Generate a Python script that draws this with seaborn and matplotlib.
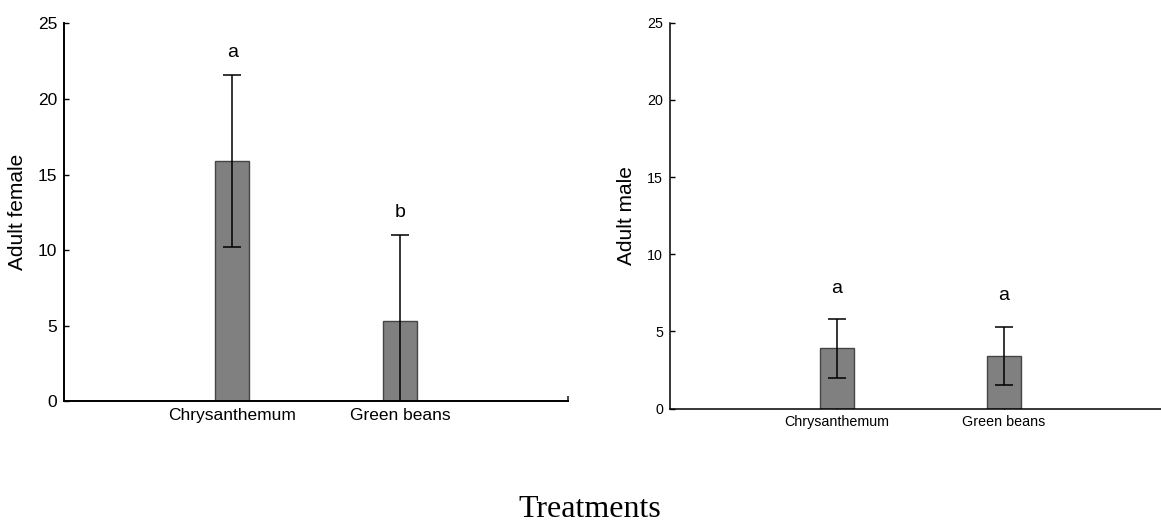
import matplotlib
matplotlib.use("Agg")
import matplotlib.pyplot as plt
import seaborn as sns
import pandas as pd

# Mean counts per host plant with their error margins and significance letters
treatments = ["Chrysanthemum", "Green beans"]
female_mean = [15.9, 5.3]
female_err = [5.7, 5.7]
female_letters = ["a", "b"]
male_mean = [3.9, 3.4]
male_err = [1.9, 1.9]
male_letters = ["a", "a"]
y_ticks = [0, 5, 10, 15, 20, 25]

sns.set_style("ticks")
plt.rcParams["font.family"] = ["Liberation Sans", "DejaVu Sans"]
plt.rcParams["text.color"] = "black"
plt.rcParams["axes.labelcolor"] = "black"

fig = plt.figure(figsize=(11.61, 5.22), dpi=100)

BAR_FILL = "#808080"
BAR_EDGE = "#454545"


def draw_panel(ax, means, errs, letters, ylabel, tick_fs, label_fs, letter_fs,
               letter_gap, spine_lw):
    df = pd.DataFrame({"treatment": treatments, "value": means})
    sns.barplot(data=df, x="treatment", y="value", ax=ax, width=0.2,
                color=BAR_FILL, saturation=1, edgecolor=BAR_EDGE,
                linewidth=1.0, errorbar=None)
    pos = list(range(len(treatments)))
    ax.errorbar(pos, means, yerr=errs, fmt="none", ecolor="black",
                elinewidth=1.1, capsize=6.5, capthick=1.1, zorder=4)
    for x, m, e, t in zip(pos, means, errs, letters):
        ax.text(x, m + e + letter_gap, t, ha="center", va="center",
                fontsize=letter_fs, color="black")
    ax.set_xlim(-1, 2)
    ax.set_ylim(0, 25)
    ax.set_yticks(y_ticks)
    ax.set_xticks(pos)
    ax.set_xticklabels(treatments)
    ax.set_xticks([2], minor=True)
    ax.set_xlabel("")
    ax.set_ylabel(ylabel, fontsize=label_fs, labelpad=8, color="black")
    ax.tick_params(axis="both", direction="in", length=3.5, width=1.0,
                   labelsize=tick_fs, colors="black", pad=5)
    ax.tick_params(axis="x", which="minor", direction="in", length=3.5,
                   width=1.2)
    sns.despine(ax=ax, top=True, right=True)
    for side in ("left", "bottom"):
        ax.spines[side].set_linewidth(spine_lw)
        ax.spines[side].set_color("black")


ax1 = fig.add_axes([0.0554, 0.2312, 0.4338, 0.7241])
draw_panel(ax1, female_mean, female_err, female_letters, "Adult female",
           tick_fs=12.5, label_fs=15, letter_fs=14, letter_gap=1.5,
           spine_lw=1.4)

ax2 = fig.add_axes([0.5771, 0.2174, 0.4313, 0.7391])
draw_panel(ax2, male_mean, male_err, male_letters, "Adult male",
           tick_fs=10.3, label_fs=15, letter_fs=14, letter_gap=2.0,
           spine_lw=1.1)

fig.text(0.508, 0.009, "Treatments", ha="center", va="baseline",
         fontsize=23, color="black",
         family=["Liberation Serif", "DejaVu Serif"])

fig.savefig("out.png", dpi=100, facecolor="white")
